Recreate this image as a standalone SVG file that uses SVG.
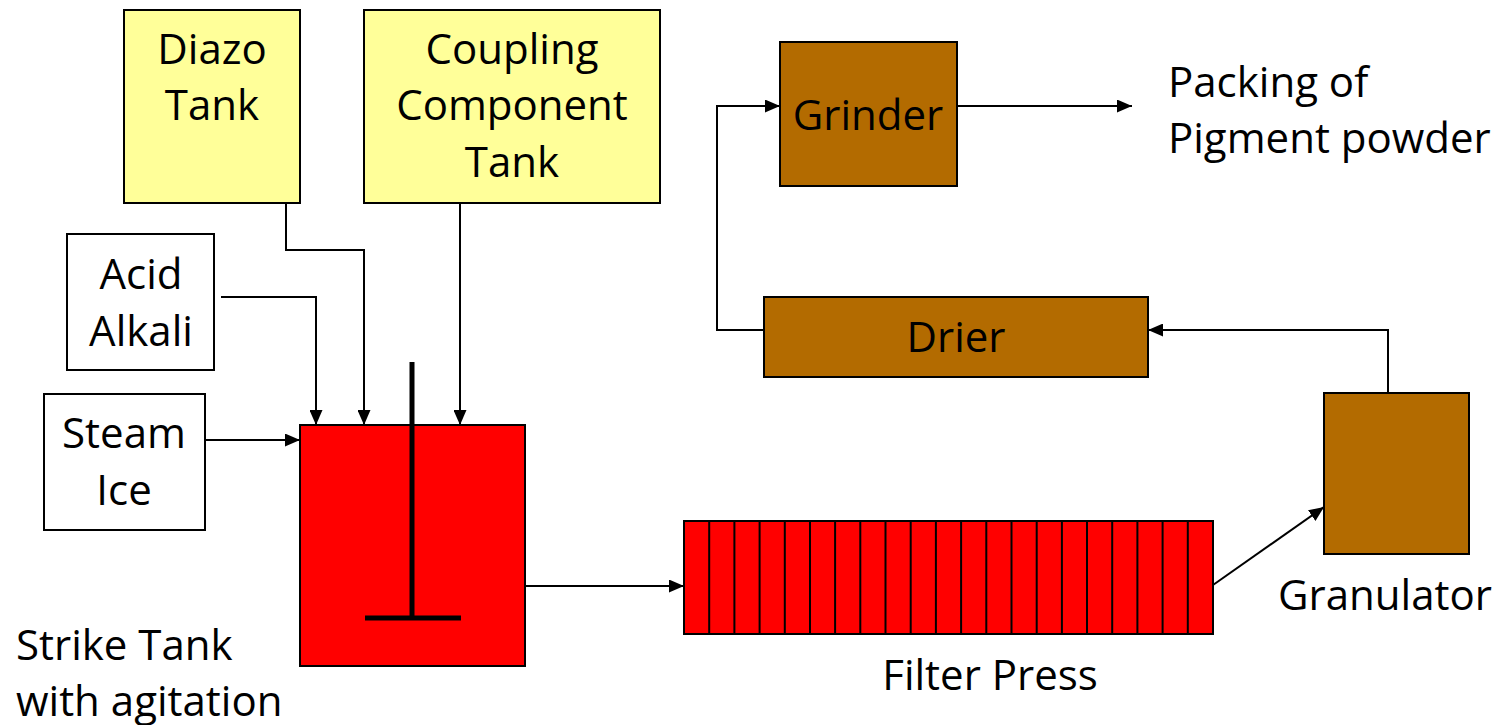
<svg xmlns="http://www.w3.org/2000/svg" width="1501" height="725" viewBox="0 0 1501 725">
<defs>
<style>
text{font-family:"Open Sans",Lato,"Liberation Sans",sans-serif;font-size:42px;fill:#000;font-variant-ligatures:none}
.c{text-anchor:middle}
.yel{fill:#FFFF99;stroke:#000;stroke-width:2}
.wht{fill:#fff;stroke:#000;stroke-width:2}
.red{fill:#FF0000;stroke:#000;stroke-width:2}
.brn{fill:#B36B00;stroke:#000;stroke-width:2}
.ln{fill:none;stroke:#000;stroke-width:2}
.arr{fill:none;stroke:#000;stroke-width:2;marker-end:url(#ah)}
</style>
<marker id="ah" viewBox="0 0 15 13" refX="15" refY="6.5" markerWidth="15" markerHeight="13" markerUnits="userSpaceOnUse" orient="auto">
<path d="M0,0 L15,6.5 L0,13 z" fill="#000"/>
</marker>
</defs>
<rect width="1501" height="725" fill="#fff"/>

<g id="connectors">
<path class="arr" d="M286,203 V250 H364 V425"/>
<path class="arr" d="M221,297 H316 V425"/>
<path class="arr" d="M460,203 V425"/>
<path class="arr" d="M205,440 H300"/>
<path class="arr" d="M525,586 H684"/>
<path class="arr" d="M1213,585 L1324,507"/>
<path class="arr" d="M1388,393 V330 H1148"/>
<path class="arr" d="M764,330 H717 V106 H780"/>
<path class="arr" d="M957,106 H1132"/>
</g>

<g id="diazo-tank">
<rect class="yel" x="124" y="10" width="176" height="193"/>
<text class="c" x="212" y="64">Diazo</text>
<text class="c" x="212" y="120">Tank</text>
</g>

<g id="coupling-tank">
<rect class="yel" x="364" y="10" width="296" height="193"/>
<text class="c" x="512" y="64">Coupling</text>
<text class="c" x="512" y="120">Component</text>
<text class="c" x="512" y="177">Tank</text>
</g>

<g id="acid-alkali">
<rect class="wht" x="67" y="234" width="147" height="136"/>
<text class="c" x="141" y="289">Acid</text>
<text class="c" x="141" y="346">Alkali</text>
</g>

<g id="steam-ice">
<rect class="wht" x="44" y="394" width="161" height="136"/>
<text class="c" x="124" y="448">Steam</text>
<text class="c" x="124" y="505">Ice</text>
</g>

<g id="strike-tank">
<rect class="red" x="300" y="425" width="225" height="241"/>
<path d="M412,362 V618 M365,618 H461" fill="none" stroke="#000" stroke-width="5"/>
<text x="16" y="660">Strike Tank</text>
<text x="16" y="716">with agitation</text>
</g>

<g id="filter-press">
<rect class="red" x="684" y="521" width="529" height="113"/>
<path class="ln" d="M709.2,521V634 M734.4,521V634 M759.6,521V634 M784.8,521V634 M810,521V634 M835.1,521V634 M860.3,521V634 M885.5,521V634 M910.7,521V634 M935.9,521V634 M961.1,521V634 M986.3,521V634 M1011.5,521V634 M1036.7,521V634 M1061.9,521V634 M1087,521V634 M1112.2,521V634 M1137.4,521V634 M1162.6,521V634 M1187.8,521V634"/>
<text class="c" x="990" y="690">Filter Press</text>
</g>

<g id="granulator">
<rect class="brn" x="1324" y="393" width="145" height="161"/>
<text class="c" x="1385" y="610">Granulator</text>
</g>

<g id="drier">
<rect class="brn" x="764" y="297" width="384" height="80"/>
<text class="c" x="956" y="352">Drier</text>
</g>

<g id="grinder">
<rect class="brn" x="780" y="42" width="177" height="144"/>
<text class="c" x="868" y="130">Grinder</text>
</g>

<g id="packing">
<text x="1168" y="97">Packing of</text>
<text x="1168" y="153">Pigment powder</text>
</g>
</svg>
